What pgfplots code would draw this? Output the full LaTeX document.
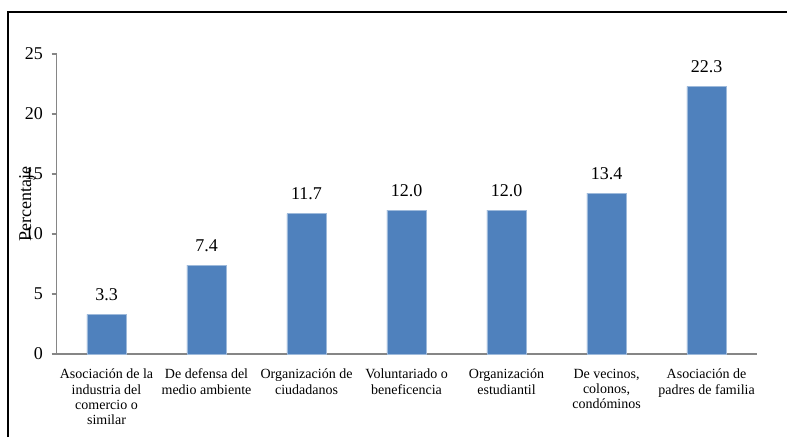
\documentclass[border=0pt]{standalone}
\usepackage{pgfplots}
\pgfplotsset{compat=1.18}
\usepackage{fontspec}
\setmainfont{Liberation Serif}
\definecolor{barblue}{HTML}{4F81BD}
\definecolor{axisgray}{HTML}{868686}
\begin{document}
\begin{tikzpicture}
% canvas: 787x437 px at 0.75pt per px
\useasboundingbox (0,0) rectangle (590.25pt,327.75pt);
\draw[black, line width=1.1pt] (6pt,0) -- (6pt,318.75pt) -- (590.25pt,318.75pt);
\begin{axis}[
    at={(42.4pt,62.25pt)}, anchor=south west,
    scale only axis, width=525pt, height=225pt,
    ymin=0, ymax=25, ytick={0,5,...,25},
    xmin=-0.5, xmax=6.5,
    xtick=data,
    xticklabels={
        {Asociación de la\\industria del\\comercio o\\similar},
        {De defensa del\\medio ambiente},
        {Organización de\\ciudadanos},
        {Voluntariado o\\beneficencia},
        {Organización\\estudiantil},
        {De vecinos,\\colonos,\\condóminos},
        {Asociación de\\padres de familia}},
    xticklabel style={align=center, font=\fontsize{10.5}{11.5}\selectfont, anchor=north, yshift=-4pt},
    yticklabel style={font=\fontsize{13.5}{15}\selectfont, xshift=-3pt},
    /pgf/number format/assume math mode=true,
    axis x line=bottom, axis y line=left,
    axis line style={axisgray, line width=0.9pt, -},
    tick align=outside, major tick length=3.75pt,
    ytick style={axisgray, line width=0.9pt},
    xtick style={draw=none},
    ylabel={Percentaje},
    ylabel style={at={(axis description cs:-0.0421,0.5)}, anchor=center, font=\fontsize{13.5}{15}\selectfont},
    ybar, bar width=29.5pt,
    nodes near coords={\pgfmathprintnumber[fixed,fixed zerofill,precision=1]{\pgfplotspointmeta}},
    every node near coord/.append style={font=\fontsize{13.5}{15}\selectfont, anchor=base, yshift=10.5pt, black},
]
\addplot[fill=barblue, draw=barblue!55!white, line width=0.4pt] coordinates {
    (0,3.3) (1,7.4) (2,11.7) (3,12.0) (4,12.0) (5,13.4) (6,22.3)
};
\end{axis}
\end{tikzpicture}
\end{document}
